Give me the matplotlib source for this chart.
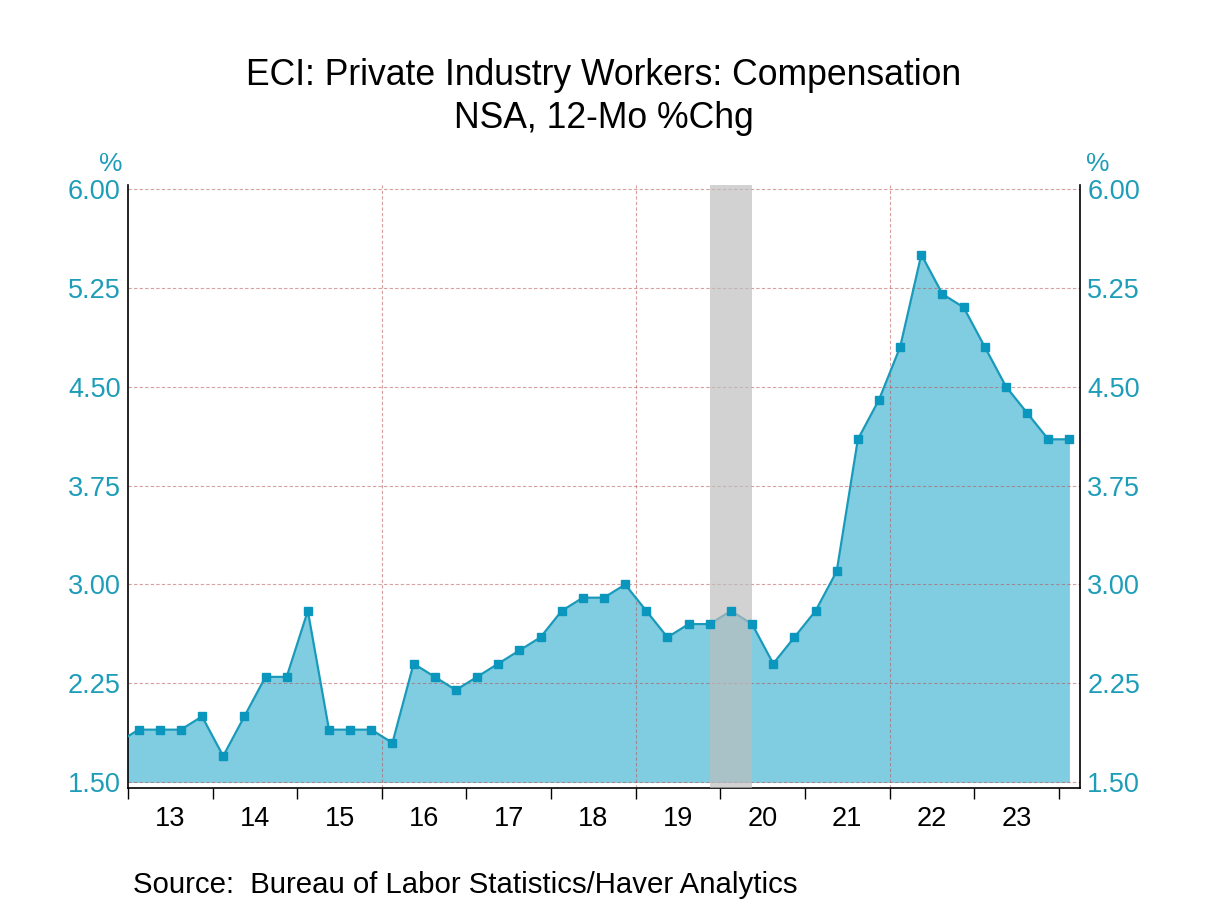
import matplotlib
matplotlib.use("Agg")
import matplotlib.pyplot as plt
import numpy as np

plt.rcParams['font.family'] = ['Liberation Sans', 'DejaVu Sans']

# Quarterly data, 12-month % change (2012Q4 .. 2024Q1)
years = [2012] + [y for y in range(2013, 2024) for _ in range(4)] + [2024]
quarters = [4] + [q for _ in range(2013, 2024) for q in (1, 2, 3, 4)] + [1]
values = [1.8,
          1.9, 1.9, 1.9, 2.0,
          1.7, 2.0, 2.3, 2.3,
          2.8, 1.9, 1.9, 1.9,
          1.8, 2.4, 2.3, 2.2,
          2.3, 2.4, 2.5, 2.6,
          2.8, 2.9, 2.9, 3.0,
          2.8, 2.6, 2.7, 2.7,
          2.8, 2.7, 2.4, 2.6,
          2.8, 3.1, 4.1, 4.4,
          4.8, 5.5, 5.2, 5.1,
          4.8, 4.5, 4.3, 4.1,
          4.1]
year_labels = ['13', '14', '15', '16', '17', '18', '19', '20', '21', '22', '23']
label_years = list(range(2013, 2024))
y_ticks = [1.50, 2.25, 3.00, 3.75, 4.50, 5.25, 6.00]
grid_years = [2016, 2019, 2022]
recession = ((2019, 4), (2020, 2))  # peak quarter, trough quarter

title1 = "ECI: Private Industry Workers: Compensation"
title2 = "NSA, 12-Mo %Chg"
source = "Source:  Bureau of Labor Statistics/Haver Analytics"

x = np.array([y + (q - 0.5) / 4 for y, q in zip(years, quarters)])
v = np.array(values)

teal_text = '#1E9DB8'
line_c = '#1A9ABA'
mark_c = '#0B96BE'
fill_c = '#80CDE1'
grid_c = '#B85050'

fig = plt.figure(figsize=(12.08, 9.06), dpi=100)
W, H = 1208, 906
ax = fig.add_axes([128 / W, 1 - 788 / H, (1080 - 128) / W, (788 - 185) / H])

ax.set_xlim(2013.0, 2024.25)
ax.set_ylim(1.458, 6.027)

ax.fill_between(x, 1.5, v, color=fill_c, linewidth=0, zorder=1)
ax.plot(x, v, color=line_c, linewidth=1.6, zorder=3)

# grid
for yt in y_ticks:
    ax.axhline(yt, color=grid_c, alpha=0.55, linewidth=0.8,
               linestyle=(0, (3, 2)), zorder=2)
for gy in grid_years:
    ax.axvline(gy, color=grid_c, alpha=0.55, linewidth=0.8,
               linestyle=(0, (3, 2)), zorder=2)

# recession shading
r0 = recession[0][0] + (recession[0][1] - 0.5) / 4
r1 = recession[1][0] + (recession[1][1] - 0.5) / 4
ax.axvspan(r0, r1, color='#BDBDBD', alpha=0.68, linewidth=0, zorder=4)

ax.plot(x, v, linestyle='none', marker='s', markersize=5.6,
        color=mark_c, zorder=5)

# spines
ax.spines['top'].set_visible(False)
for s in ('left', 'right', 'bottom'):
    ax.spines[s].set_color('black')
    ax.spines[s].set_linewidth(1.2)

# y ticks both sides
ax.set_yticks(y_ticks)
ax.set_yticklabels([f"{t:.2f}" for t in y_ticks])
ax.tick_params(axis='y', length=0, pad=5.3, labelsize=19.5, labelcolor=teal_text,
               left=False, right=False, labelleft=True, labelright=True)

# x ticks: major at year boundaries, labels at mid-year
ax.set_xticks(list(range(2013, 2025)))
ax.set_xticklabels([])
ax.set_xticks([y + 0.5 for y in label_years], minor=True)
ax.set_xticklabels(year_labels, minor=True)
ax.tick_params(axis='x', which='major', direction='out', length=8, width=1.0,
               color='black')
ax.tick_params(axis='x', which='minor', length=0, pad=13, labelsize=19.5,
               labelcolor='black')

# % labels
fig.text(122 / W, 1 - 164 / H, '%', ha='right', va='center', fontsize=19,
         color=teal_text)
fig.text(1086 / W, 1 - 164 / H, '%', ha='left', va='center', fontsize=19,
         color=teal_text)

fig.text(0.5, 1 - 85 / H, title1, ha='center', va='baseline', fontsize=25.6,
         color='black')
fig.text(0.5, 1 - 128 / H, title2, ha='center', va='baseline', fontsize=25.6,
         color='black')
fig.text(133 / W, 1 - 893 / H, source, ha='left', va='baseline', fontsize=21.2,
         color='black')

fig.savefig('out.png', dpi=100)
